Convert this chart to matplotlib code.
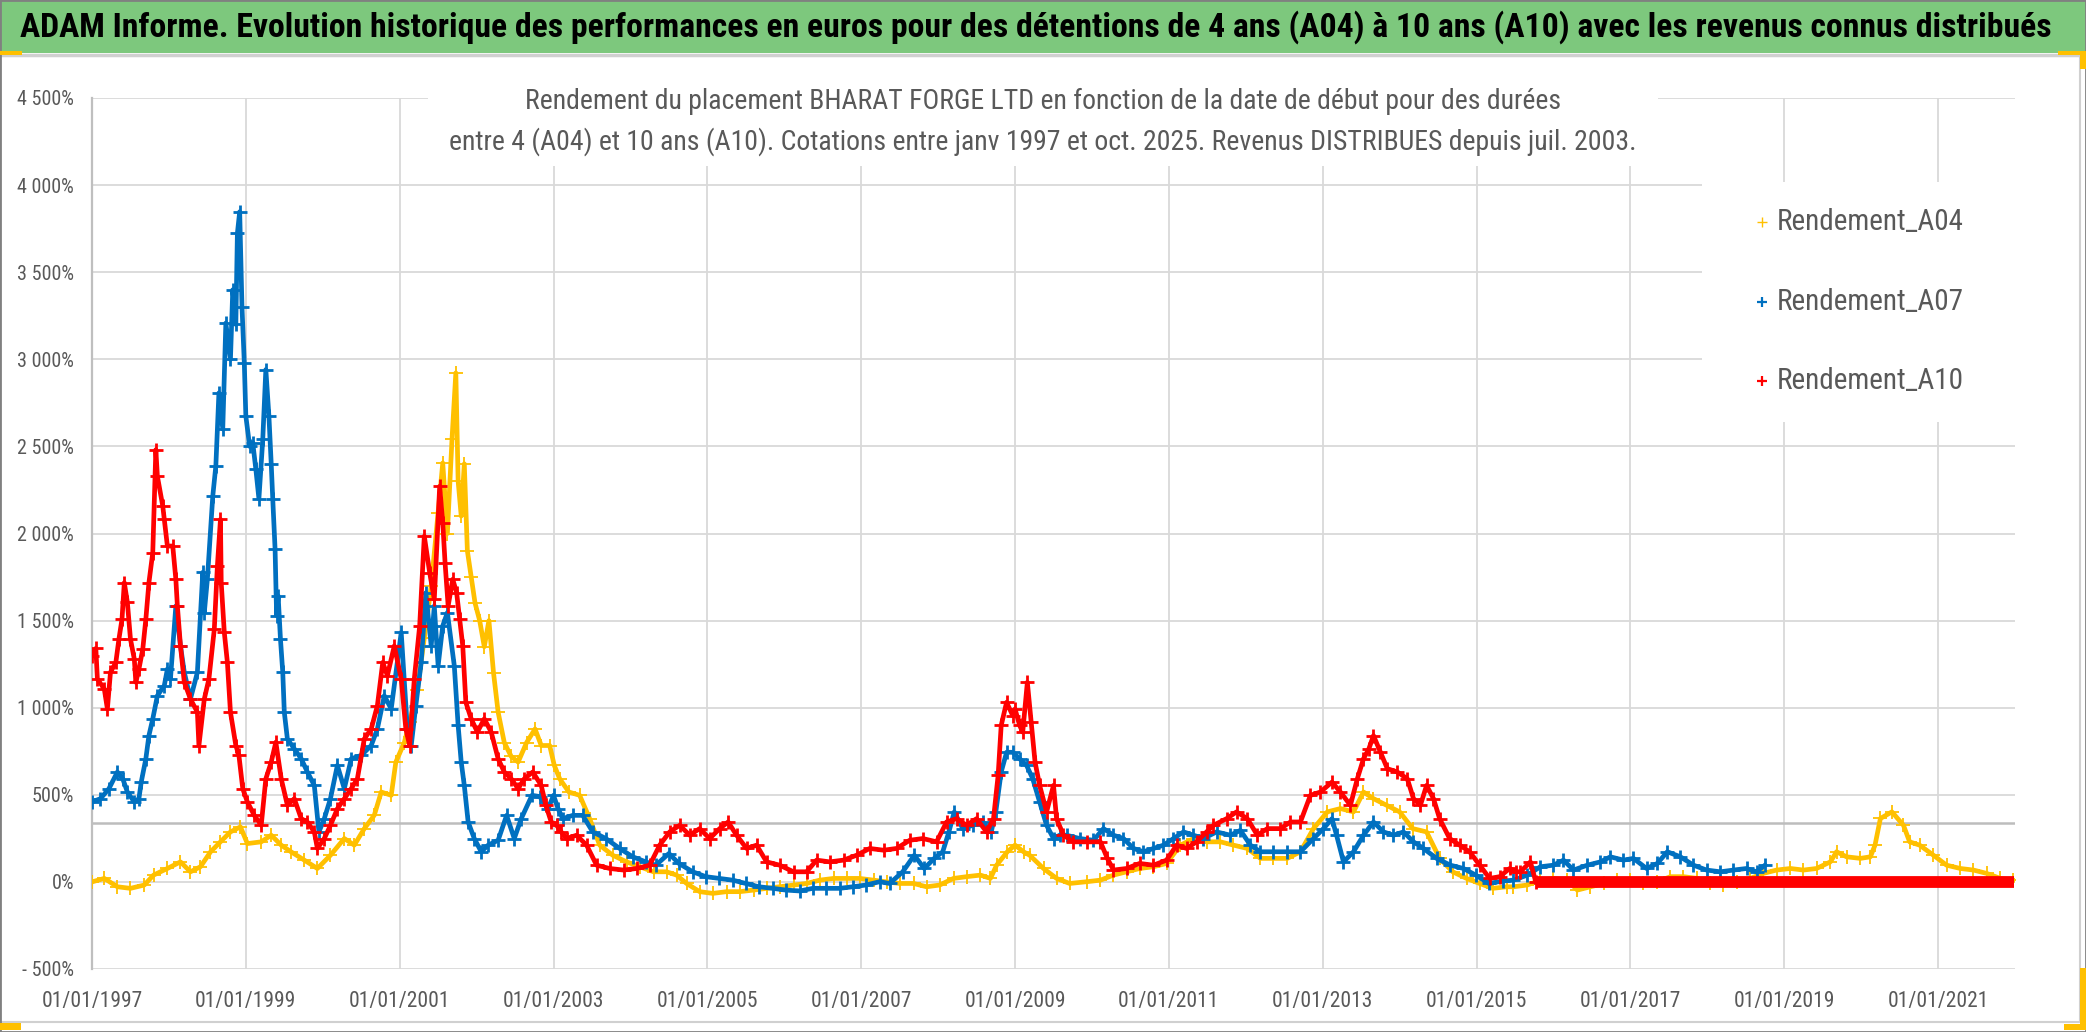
import matplotlib
matplotlib.use("Agg")
import matplotlib.pyplot as plt
from matplotlib import font_manager
from matplotlib.patches import Rectangle
from matplotlib.lines import Line2D
from matplotlib.ticker import FuncFormatter

# police etroite si disponible, sinon Liberation Sans (metriques Arial)
police = "Liberation Sans"
for nom in ["Liberation Sans Narrow", "Roboto Condensed", "Open Sans Condensed", "Liberation Sans"]:
    try:
        font_manager.findfont(nom, fallback_to_default=False)
        police = nom
        break
    except ValueError:
        pass
plt.rcParams['font.family'] = [police, 'DejaVu Sans']

# --- donnees (annee decimale, rendement en %) ---
annees_a04 = [1997.00, 1997.16, 1997.33, 1997.50, 1997.68, 1997.80, 1997.98, 1998.15, 1998.28, 1998.41,
              1998.54, 1998.67, 1998.80, 1998.93, 1999.02, 1999.20, 1999.33, 1999.46, 1999.59, 1999.76,
              1999.93, 2000.10, 2000.28, 2000.41, 2000.54, 2000.67, 2000.76, 2000.89, 2000.95, 2001.06,
              2001.13, 2001.23, 2001.32, 2001.41, 2001.50, 2001.56, 2001.62, 2001.68, 2001.73, 2001.76,
              2001.80, 2001.84, 2001.88, 2001.93, 2001.98, 2002.04, 2002.10, 2002.16, 2002.22, 2002.28,
              2002.36, 2002.45, 2002.54, 2002.65, 2002.76, 2002.84, 2002.95, 2003.01, 2003.08, 2003.20,
              2003.34, 2003.47, 2003.60, 2003.77, 2003.95, 2004.12, 2004.30, 2004.47, 2004.60, 2004.73,
              2004.90, 2005.07, 2005.25, 2005.42, 2005.60, 2005.77, 2005.94, 2006.12, 2006.29, 2006.46,
              2006.64, 2006.81, 2006.98, 2007.16, 2007.33, 2007.50, 2007.68, 2007.85, 2008.02, 2008.20,
              2008.37, 2008.55, 2008.68, 2008.76, 2008.90, 2009.00, 2009.11, 2009.19, 2009.37, 2009.54,
              2009.71, 2009.93, 2010.11, 2010.28, 2010.45, 2010.62, 2010.80, 2010.97, 2011.15, 2011.32,
              2011.49, 2011.67, 2011.84, 2012.02, 2012.19, 2012.36, 2012.54, 2012.71, 2012.88, 2013.06,
              2013.23, 2013.40, 2013.53, 2013.66, 2013.83, 2014.00, 2014.17, 2014.35, 2014.52, 2014.69,
              2014.87, 2015.04, 2015.21, 2015.39, 2015.48, 2015.66, 2015.83, 2016.00, 2016.18, 2016.31,
              2016.48, 2016.66, 2016.83, 2017.00, 2017.17, 2017.35, 2017.52, 2017.69, 2017.87, 2018.04,
              2018.21, 2018.39, 2018.56, 2018.73, 2018.90, 2019.08, 2019.25, 2019.42, 2019.60, 2019.68,
              2019.81, 2019.99, 2020.12, 2020.18, 2020.25, 2020.40, 2020.55, 2020.63, 2020.76, 2020.94,
              2021.11, 2021.29, 2021.46, 2021.63, 2021.81, 2021.98]
rendement_a04 = [0, 20, -28, -37, -18, 39, 77, 115, 58, 87,
                 172, 230, 287, 316, 220, 230, 268, 211, 172, 125,
                 77, 153, 249, 211, 306, 383, 516, 497, 688, 800,
                 917, 1100, 1400, 1700, 2119, 2405, 2000, 2540, 2922, 2300,
                 2100, 2400, 1900, 1750, 1600, 1500, 1350, 1500, 1200, 974,
                 800, 720, 688, 800, 878, 783, 783, 669, 592, 516,
                 497, 363, 211, 153, 115, 87, 58, 58, 39, -9,
                 -56, -66, -56, -56, -47, -37, -28, -18, -9, 10,
                 20, 20, 20, 10, 1, -9, -9, -28, -18, 20,
                 30, 39, 20, 96, 173, 211, 173, 153, 77, 20,
                 -9, 1, 10, 39, 58, 77, 87, 106, 211, 249,
                 230, 230, 211, 192, 135, 135, 135, 173, 306, 402,
                 421, 402, 516, 478, 440, 402, 306, 287, 135, 58,
                 20, -9, -37, -28, -28, -18, 10, 20, 10, -47,
                 -28, -9, 10, 10, -9, 1, 30, 30, 20, -9,
                 -18, 1, 20, 49, 68, 77, 68, 77, 115, 173,
                 144, 135, 144, 211, 364, 402, 325, 230, 211, 153,
                 96, 77, 68, 49, 20, 10]

annees_a07 = [1997.00, 1997.11, 1997.22, 1997.33, 1997.40, 1997.46, 1997.55, 1997.61, 1997.64, 1997.70,
              1997.74, 1997.79, 1997.85, 1997.94, 1997.98, 1998.02, 1998.09, 1998.15, 1998.20, 1998.28,
              1998.37, 1998.44, 1998.46, 1998.50, 1998.57, 1998.61, 1998.65, 1998.70, 1998.74, 1998.80,
              1998.83, 1998.87, 1998.89, 1998.92, 1998.95, 1998.98, 1999.00, 1999.05, 1999.09, 1999.13,
              1999.17, 1999.22, 1999.26, 1999.30, 1999.33, 1999.35, 1999.38, 1999.40, 1999.42, 1999.45,
              1999.48, 1999.50, 1999.54, 1999.63, 1999.72, 1999.80, 1999.89, 1999.95, 2000.02, 2000.10,
              2000.19, 2000.28, 2000.37, 2000.50, 2000.63, 2000.71, 2000.80, 2000.89, 2001.02, 2001.10,
              2001.15, 2001.21, 2001.28, 2001.34, 2001.41, 2001.45, 2001.50, 2001.56, 2001.62, 2001.71,
              2001.76, 2001.80, 2001.84, 2001.89, 2001.97, 2002.06, 2002.15, 2002.28, 2002.39, 2002.49,
              2002.58, 2002.72, 2002.82, 2002.93, 2003.00, 2003.06, 2003.12, 2003.25, 2003.38, 2003.51,
              2003.68, 2003.86, 2004.03, 2004.20, 2004.33, 2004.50, 2004.63, 2004.81, 2004.98, 2005.15,
              2005.33, 2005.50, 2005.67, 2005.85, 2006.02, 2006.20, 2006.37, 2006.54, 2006.72, 2006.89,
              2007.06, 2007.24, 2007.37, 2007.54, 2007.69, 2007.82, 2007.95, 2008.06, 2008.14, 2008.21,
              2008.32, 2008.45, 2008.58, 2008.69, 2008.75, 2008.82, 2008.89, 2008.97, 2009.06, 2009.15,
              2009.23, 2009.32, 2009.41, 2009.50, 2009.58, 2009.67, 2009.84, 2010.02, 2010.15, 2010.28,
              2010.41, 2010.54, 2010.67, 2010.80, 2010.93, 2011.06, 2011.19, 2011.32, 2011.45, 2011.62,
              2011.80, 2011.93, 2012.06, 2012.19, 2012.36, 2012.54, 2012.71, 2012.88, 2013.01, 2013.12,
              2013.18, 2013.27, 2013.40, 2013.53, 2013.66, 2013.79, 2013.92, 2014.05, 2014.18, 2014.31,
              2014.48, 2014.66, 2014.83, 2014.99, 2015.16, 2015.34, 2015.48, 2015.66, 2015.83, 2016.00,
              2016.13, 2016.26, 2016.44, 2016.61, 2016.74, 2016.91, 2017.04, 2017.21, 2017.35, 2017.48,
              2017.65, 2017.82, 2017.99, 2018.17, 2018.34, 2018.51, 2018.64, 2018.75]
rendement_a07 = [459, 478, 535, 631, 592, 516, 459, 478, 573, 707,
                 840, 936, 1069, 1127, 1222, 1165, 1584, 1356, 1203, 1050,
                 1203, 1777, 1546, 1737, 2214, 2388, 2807, 2600, 3208, 3000,
                 3399, 3200, 3723, 3847, 3300, 2979, 2674, 2500, 2521, 2369,
                 2200, 2540, 2941, 2674, 2400, 2197, 1911, 1529, 1642, 1394,
                 1203, 974, 821, 764, 707, 631, 554, 287, 363, 478,
                 669, 535, 707, 726, 783, 878, 1069, 993, 1432, 878,
                 783, 1012, 1260, 1660, 1355, 1584, 1241, 1470, 1546, 1241,
                 898, 688, 554, 344, 249, 173, 211, 239, 382, 249,
                 363, 497, 490, 420, 497, 420, 363, 382, 382, 287,
                 249, 192, 144, 115, 96, 163, 106, 58, 30, 20,
                 10, -9, -28, -37, -47, -52, -37, -37, -37, -28,
                 -18, 1, -9, 58, 153, 77, 135, 173, 287, 402,
                 306, 325, 344, 287, 402, 631, 744, 744, 707, 669,
                 592, 459, 325, 249, 268, 268, 249, 239, 306, 268,
                 249, 192, 173, 192, 211, 249, 287, 268, 249, 287,
                 268, 296, 211, 173, 173, 173, 173, 249, 306, 363,
                 268, 115, 173, 268, 344, 287, 268, 287, 230, 192,
                 135, 96, 77, 39, -9, 5, 10, 39, 87, 96,
                 125, 68, 96, 115, 144, 125, 135, 77, 106, 173,
                 144, 96, 68, 58, 68, 77, 58, 96]

annees_a10 = [1997.00, 1997.05, 1997.07, 1997.16, 1997.20, 1997.24, 1997.31, 1997.35, 1997.39, 1997.42,
              1997.46, 1997.50, 1997.55, 1997.57, 1997.61, 1997.66, 1997.70, 1997.74, 1997.79, 1997.83,
              1997.85, 1997.92, 1997.94, 1997.98, 1998.05, 1998.09, 1998.11, 1998.15, 1998.20, 1998.28,
              1998.37, 1998.39, 1998.46, 1998.52, 1998.59, 1998.63, 1998.67, 1998.68, 1998.72, 1998.76,
              1998.80, 1998.87, 1998.91, 1998.96, 1999.02, 1999.11, 1999.20, 1999.26, 1999.33, 1999.39,
              1999.46, 1999.54, 1999.63, 1999.72, 1999.80, 1999.89, 1999.93, 2000.02, 2000.10, 2000.19,
              2000.28, 2000.37, 2000.45, 2000.54, 2000.63, 2000.71, 2000.78, 2000.84, 2000.93, 2001.02,
              2001.08, 2001.13, 2001.19, 2001.26, 2001.32, 2001.39, 2001.45, 2001.52, 2001.56, 2001.59,
              2001.63, 2001.69, 2001.74, 2001.78, 2001.82, 2001.86, 2001.93, 2002.01, 2002.10, 2002.19,
              2002.28, 2002.36, 2002.45, 2002.54, 2002.62, 2002.73, 2002.84, 2002.90, 2002.97, 2003.04,
              2003.10, 2003.17, 2003.30, 2003.43, 2003.56, 2003.73, 2003.91, 2004.08, 2004.25, 2004.38,
              2004.51, 2004.64, 2004.77, 2004.90, 2005.03, 2005.16, 2005.27, 2005.38, 2005.51, 2005.64,
              2005.77, 2005.94, 2006.12, 2006.29, 2006.42, 2006.59, 2006.77, 2006.94, 2007.11, 2007.29,
              2007.46, 2007.63, 2007.80, 2007.98, 2008.11, 2008.24, 2008.37, 2008.50, 2008.63, 2008.72,
              2008.78, 2008.82, 2008.89, 2008.97, 2009.00, 2009.06, 2009.10, 2009.16, 2009.21, 2009.26,
              2009.32, 2009.41, 2009.50, 2009.54, 2009.63, 2009.76, 2009.93, 2010.11, 2010.20, 2010.28,
              2010.45, 2010.62, 2010.80, 2010.97, 2011.10, 2011.23, 2011.36, 2011.49, 2011.58, 2011.75,
              2011.88, 2012.02, 2012.15, 2012.28, 2012.45, 2012.58, 2012.71, 2012.84, 2012.97, 2013.12,
              2013.23, 2013.36, 2013.45, 2013.53, 2013.60, 2013.66, 2013.75, 2013.84, 2013.97, 2014.10,
              2014.18, 2014.27, 2014.35, 2014.44, 2014.52, 2014.65, 2014.78, 2014.91, 2015.04, 2015.17,
              2015.30, 2015.43, 2015.51, 2015.57, 2015.70, 2015.77]
rendement_a10 = [1298, 1340, 1165, 1107, 993, 1203, 1260, 1394, 1508, 1718,
                 1604, 1394, 1279, 1146, 1222, 1336, 1508, 1718, 1890, 2481,
                 2329, 2157, 2081, 1928, 1928, 1737, 1584, 1356, 1146, 1050,
                 974, 783, 1050, 1165, 1451, 1813, 2081, 1718, 1432, 1260,
                 974, 783, 726, 535, 459, 382, 325, 592, 688, 802,
                 592, 440, 478, 363, 344, 287, 192, 249, 325, 420,
                 478, 535, 592, 821, 878, 1012, 1260, 1184, 1355, 1165,
                 878, 783, 1165, 1470, 1985, 1775, 1622, 2271, 2061, 1832,
                 1584, 1737, 1661, 1508, 1355, 1031, 936, 860, 936, 860,
                 707, 631, 592, 535, 592, 631, 554, 440, 344, 325,
                 287, 249, 268, 211, 96, 77, 68, 77, 96, 211,
                 287, 325, 268, 306, 249, 306, 344, 268, 192, 211,
                 115, 96, 58, 58, 125, 115, 125, 153, 192, 182,
                 192, 239, 249, 230, 344, 363, 325, 363, 287, 363,
                 611, 898, 1031, 955, 993, 898, 860, 1146, 917, 688,
                 554, 402, 554, 363, 268, 230, 230, 230, 135, 68,
                 77, 106, 96, 125, 211, 192, 230, 287, 325, 363,
                 402, 363, 268, 306, 306, 344, 344, 497, 516, 573,
                 516, 440, 592, 707, 764, 840, 745, 650, 631, 592,
                 478, 440, 554, 478, 363, 249, 211, 173, 96, 20,
                 30, 77, 58, 58, 115, 0]
# A10 affiche 0 % (valeur absente) de sept. 2015 a fin 2021
a10_zero_annees = [2015.77, 2021.99]
a10_zero_valeurs = [0, 0]

ligne_grise = 340  # trait horizontal gris du graphique source

annees_ticks = [1997, 1999, 2001, 2003, 2005, 2007, 2009, 2011, 2013, 2015, 2017, 2019, 2021]
labels_ticks = ["01/01/%d" % a for a in annees_ticks]
series_noms = ["Rendement_A04", "Rendement_A07", "Rendement_A10"]
couleurs = ["#FFC000", "#0070C0", "#FF0000"]

titre = ("ADAM Informe. Evolution historique des performances en euros pour des détentions "
         "de 4 ans (A04) à 10 ans (A10) avec les revenus connus distribués")
sous_titre_1 = "Rendement du placement BHARAT FORGE LTD en fonction de la date de début pour des durées"
sous_titre_2 = ("entre 4 (A04) et 10 ans (A10). Cotations entre janv 1997 et oct. 2025. "
                "Revenus DISTRIBUES depuis juil. 2003.")

W, H = 2086, 1032
gris_texte = "#595959"

fig = plt.figure(figsize=(W / 100, H / 100), dpi=100)
fig.patch.set_facecolor("white")
renderer = fig.canvas.get_renderer()


def fx(px):
    return px / W


def fy(py):
    return 1 - py / H


def ajuste_largeur(txt, largeur_px, taille_max):
    # reduit la taille de police pour que le texte tienne dans la largeur voulue
    w = txt.get_window_extent(renderer=renderer).width
    txt.set_fontsize(min(taille_max, txt.get_fontsize() * largeur_px / w))


# bandeau vert du titre
fig.add_artist(Rectangle((0, fy(53)), 1, 53 / H, transform=fig.transFigure,
                         facecolor="#7DC87D", edgecolor="none", zorder=0))
fig.add_artist(Line2D([0, 1], [fy(55), fy(55)], transform=fig.transFigure,
                      color="#D0D0D0", lw=2.5, zorder=1))
t = fig.text(fx(1036), fy(27), titre, ha="center", va="center", fontsize=23,
             fontweight="bold", color="black")
ajuste_largeur(t, 2040, 26)

ax = fig.add_axes([fx(92), fy(969), fx(2015) - fx(92), fy(98) - fy(969)])
ax.set_xlim(1997, 2022)
ax.set_ylim(-500, 4500)

ax.set_xticks(annees_ticks)
ax.set_xticklabels(labels_ticks)
ax.set_yticks(range(-500, 4501, 500))


def format_pct(v, pos):
    v = int(round(v))
    s = "{:,}".format(abs(v)).replace(",", " ") + "%"
    return "- " + s if v < 0 else s


ax.yaxis.set_major_formatter(FuncFormatter(format_pct))
ax.tick_params(axis="x", length=0, pad=16, labelsize=15.5, labelcolor=gris_texte)
ax.tick_params(axis="y", length=0, pad=13, labelsize=14.5, labelcolor=gris_texte)
ax.grid(True, color="#D9D9D9", lw=1.3, zorder=0)
ax.set_axisbelow(True)
for s in ["top", "right", "bottom"]:
    ax.spines[s].set_visible(False)
ax.spines["left"].set_color("#BFBFBF")
ax.spines["left"].set_linewidth(1.6)

ax.axhline(ligne_grise, color="#BDBDBD", lw=1.8, zorder=1)

ax.plot(annees_a04, rendement_a04, color=couleurs[0], lw=3.4, marker="+",
        ms=10.5, mew=1.3, zorder=3)
ax.plot(annees_a07, rendement_a07, color=couleurs[1], lw=3.4, marker="+",
        ms=9.5, mew=2.0, zorder=4)
ax.plot(annees_a10, rendement_a10, color=couleurs[2], lw=3.4, marker="+",
        ms=9.5, mew=2.0, zorder=5)
ax.plot(a10_zero_annees, a10_zero_valeurs, color=couleurs[2], lw=8.5,
        solid_capstyle="butt", zorder=5)

# cadre blanc du sous-titre
fig.add_artist(Rectangle((fx(428), fy(166)), fx(1658) - fx(428), (166 - 62) / H,
                         transform=fig.transFigure, facecolor="white",
                         edgecolor="none", zorder=2))
s1 = fig.text(fx(1043), fy(101), sous_titre_1, ha="center", va="center",
              fontsize=20, color=gris_texte, zorder=3)
s2 = fig.text(fx(1043), fy(142), sous_titre_2, ha="center", va="center",
              fontsize=20, color=gris_texte, zorder=3)
ajuste_largeur(s2, 1205, 20)
s1.set_fontsize(s2.get_fontsize())

# legende
fig.add_artist(Rectangle((fx(1702), fy(422)), fx(2015) - fx(1702), (422 - 182) / H,
                         transform=fig.transFigure, facecolor="white",
                         edgecolor="none", zorder=2))
for i, (nom, c) in enumerate(zip(series_noms, couleurs)):
    yy = fy(222 + i * 79.5)
    fig.add_artist(Line2D([fx(1762)], [yy], transform=fig.transFigure, marker="+",
                          ms=7, mew=1.0 if i == 0 else 1.6, color=c, lw=0, zorder=3))
    lt = fig.text(fx(1777), yy, nom, ha="left", va="center", fontsize=19,
                  color=gris_texte, zorder=3)
    ajuste_largeur(lt, 188, 21)

# bordures et poignees jaunes du cadre
fig.add_artist(Line2D([fx(2080), fx(2080)], [fy(57), fy(1021)], transform=fig.transFigure,
                      color="#D0D0D0", lw=1.5, zorder=1))
fig.add_artist(Line2D([0, fx(2080)], [fy(1022), fy(1022)], transform=fig.transFigure,
                      color="#D0D0D0", lw=1.5, zorder=1))
fig.add_artist(Rectangle((0, 0), 1, 1, transform=fig.transFigure, facecolor="none",
                         edgecolor="#808080", lw=2, zorder=6))
for (x0, y0, w, h) in [(0, 51, 22, 4), (2058, 51, 28, 4), (2080, 51, 6, 18),
                       (0, 1023, 21, 7), (2064, 1024, 22, 6), (2080, 968, 6, 62)]:
    fig.add_artist(Rectangle((fx(x0), fy(y0 + h)), w / W, h / H, transform=fig.transFigure,
                             facecolor="#FFC000", edgecolor="none", zorder=7))

fig.savefig("out.png", dpi=100)
